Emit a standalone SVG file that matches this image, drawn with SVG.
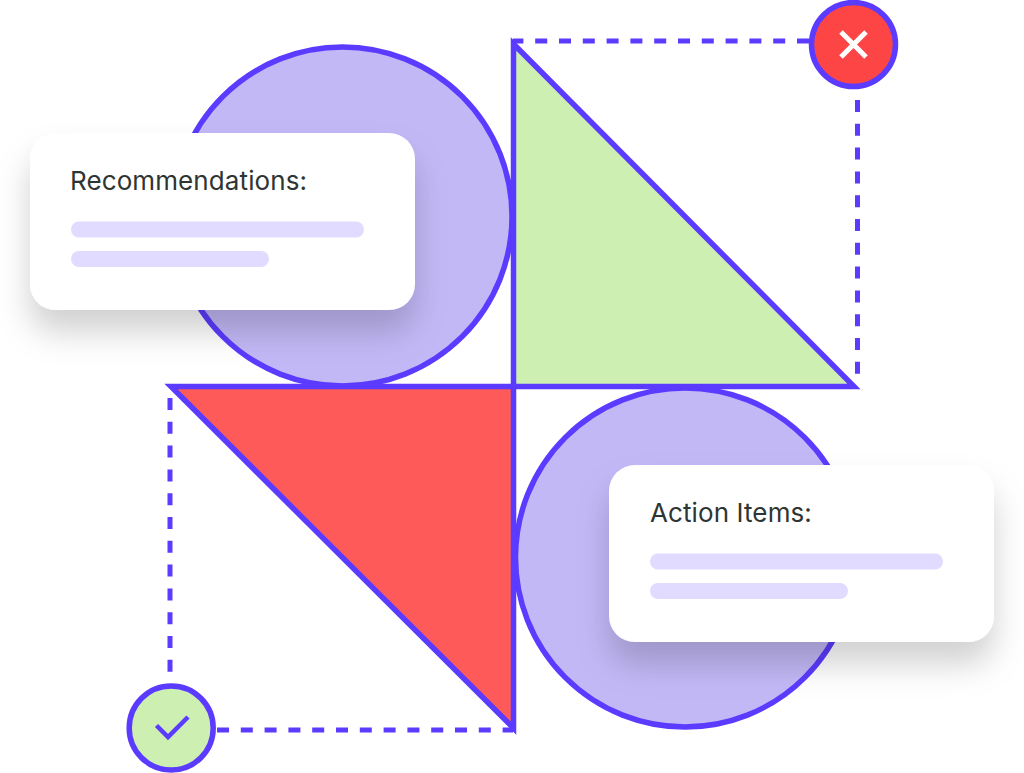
<svg xmlns="http://www.w3.org/2000/svg" width="1024" height="773" viewBox="0 0 1024 773">
<style>
.shape{stroke:#5a3bff;stroke-width:5.500;stroke-linejoin:miter}
.dash{fill:none;stroke:#5a3bff;stroke-width:5;stroke-dasharray:12 11.8}
.card{fill:#fff;filter:url(#sh)}
.bar{fill:#e0dbff}
.title{font-family:"Inter","Liberation Sans",sans-serif;font-size:26px;letter-spacing:.1px;fill:#2f3533}
</style>
<defs>
<filter id="sh" x="-20%" y="-30%" width="140%" height="180%">
<feDropShadow dx="0" dy="22" stdDeviation="16" flood-color="#000" flood-opacity="0.18"/>
</filter>
</defs>
<rect width="1024" height="773" fill="#fff"/>
<g id="connectors">
<path class="dash" d="M809 41H513"/>
<path class="dash" d="M857.500 100V375"/>
<path class="dash" d="M170 398V672"/>
<path class="dash" d="M217 730H513"/>
</g>
<g id="circle-top"><circle class="shape" cx="342.500" cy="216.500" r="169.500" fill="#c2b8f6"/></g>
<g id="circle-bottom"><circle class="shape" cx="685" cy="557.500" r="169.500" fill="#c2b8f6"/></g>
<g id="triangle-green"><path class="shape" d="M513.500 44V386.500H854Z" fill="#cdf0b2"/></g>
<g id="triangle-red"><path class="shape" d="M171 386.500H513.500V728Z" fill="#fe5a5a"/></g>
<g id="close-badge">
<circle cx="853.500" cy="44.500" r="42" fill="#fe4545" stroke="#5a3bff" stroke-width="5.500"/>
<path d="M841 32L866 57M866 32L841 57" stroke="#fff" stroke-width="5" fill="none"/>
</g>
<g id="check-badge">
<circle cx="171.200" cy="728" r="42" fill="#cdf0b2" stroke="#5a3bff" stroke-width="5.500"/>
<path d="M156.500 725.500L168 737L188 717" stroke="#5a3bff" stroke-width="4.500" fill="none"/>
</g>
<g id="card-recommendations">
<rect class="card" x="30" y="133" width="385" height="177" rx="26"/>
<text class="title" x="70" y="189.500">Recommendations:</text>
<rect class="bar" x="71" y="221.500" width="293" height="16" rx="8"/>
<rect class="bar" x="71" y="251" width="198" height="16" rx="8"/>
</g>
<g id="card-action">
<rect class="card" x="609" y="465" width="385" height="177" rx="26"/>
<text class="title" x="650" y="521.500">Action Items:</text>
<rect class="bar" x="650" y="553.500" width="293" height="16" rx="8"/>
<rect class="bar" x="650" y="583" width="198" height="16" rx="8"/>
</g>
</svg>
